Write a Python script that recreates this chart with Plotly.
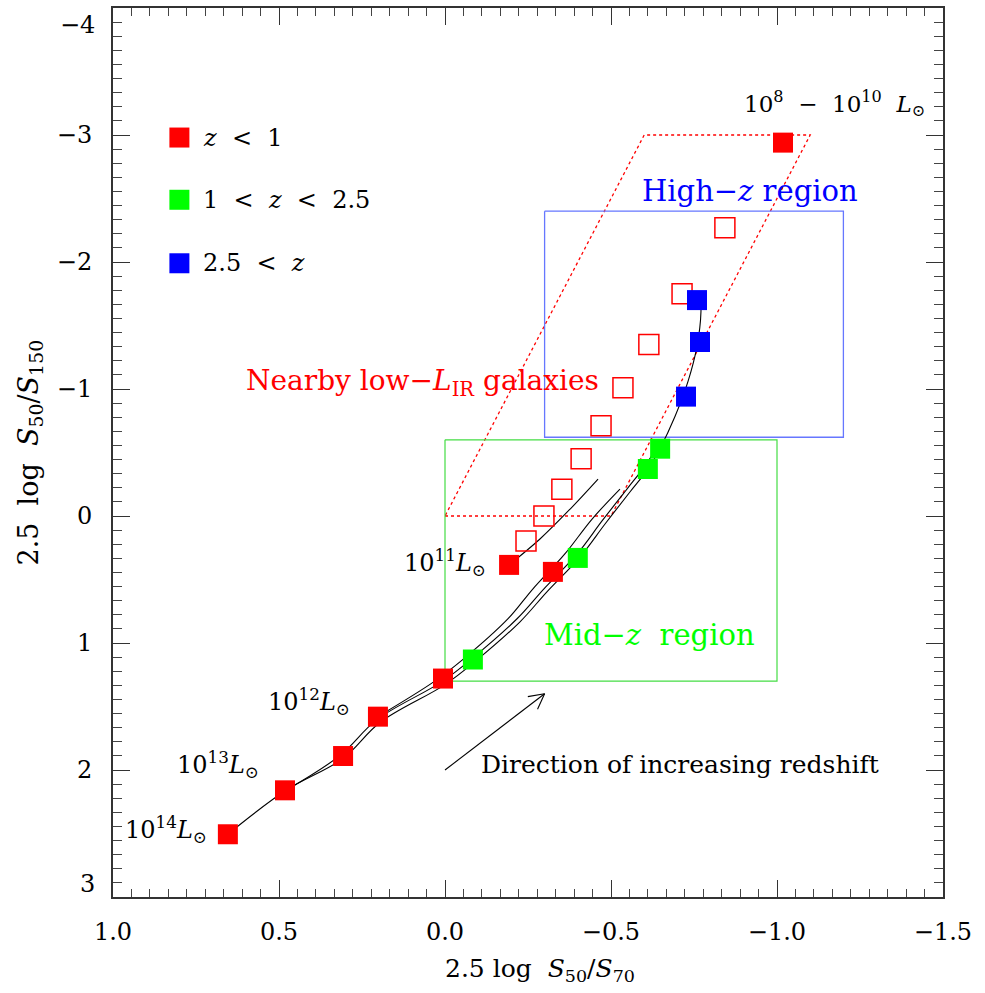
import math
import plotly.graph_objects as go

# ---- data -------------------------------------------------------------
# filled squares: colour classes by redshift
red_x = [0.654, 0.482, 0.307, 0.202, 0.006, -0.193, -0.325, -1.018]
red_y = [2.506, 2.160, 1.890, 1.580, 1.280, 0.385, 0.440, -2.940]
green_x = [-0.084, -0.400, -0.611, -0.648]
green_y = [1.130, 0.330, -0.370, -0.530]
blue_x = [-0.759, -0.768, -0.726]
blue_y = [-1.700, -1.370, -0.940]

# open squares: nearby low-L_IR galaxies
open_x = [-0.244, -0.298, -0.352, -0.410, -0.470, -0.536, -0.614, -0.714, -0.843]
open_y = [0.196, 0.000, -0.210, -0.450, -0.710, -1.010, -1.350, -1.750, -2.270]

# model colour tracks for fixed luminosity, redshift increasing up and to the right
track_l14_x = [0.654, 0.479, 0.307, 0.196, 0.000, -0.090, -0.226, -0.307, -0.407,
               -0.482, -0.557, -0.611, -0.648, -0.693, -0.732, -0.759, -0.771, -0.768]
track_l14_y = [2.506, 2.160, 1.909, 1.626, 1.328, 1.147, 0.833, 0.597, 0.322,
               0.063, -0.189, -0.369, -0.534, -0.786, -1.060, -1.335, -1.610, -1.744]
track_l13_x = [0.479, 0.316, 0.205, 0.009, -0.081, -0.217, -0.298, -0.398, -0.473,
               -0.548, -0.602, -0.636]
track_l13_y = [2.160, 1.885, 1.603, 1.304, 1.123, 0.809, 0.573, 0.299, 0.039,
               -0.212, -0.393, -0.534]
track_l12_x = [0.202, 0.033, -0.057, -0.190, -0.265, -0.361, -0.443, -0.527]
track_l12_y = [1.579, 1.304, 1.123, 0.809, 0.573, 0.299, 0.024, -0.212]
track_l11_x = [-0.193, -0.286, -0.377, -0.461]
track_l11_y = [0.385, 0.181, -0.055, -0.291]

# selection regions
nearby_x = [0.0, -0.5, -1.1, -0.6, 0.0]
nearby_y = [0.0, 0.0, -3.0, -3.0, 0.0]
midz_x = [0.0, -1.0, -1.0, 0.0, 0.0]
midz_y = [-0.6, -0.6, 1.3, 1.3, -0.6]
highz_x = [-0.3, -1.2, -1.2, -0.3, -0.3]
highz_y = [-2.4, -2.4, -0.62, -0.62, -2.4]

# redshift arrow (tail, tip)
arrow_x = [0.0, -0.30]
arrow_y = [2.0, 1.40]

# legend
legend_labels = ["<i>z</i>  &lt;  1", "1  &lt;  <i>z</i>  &lt;  2.5", "2.5  &lt;  <i>z</i>"]
legend_y = [-2.98, -2.49, -1.99]

x_ticks = [1.0, 0.5, 0.0, -0.5, -1.0, -1.5]
y_ticks = [-3, -2, -1, 0, 1, 2]
y_edge_ticks = [-4, 3]

FONT = "DejaVu Serif"
RED, GREEN, BLUE = "#ff0000", "#00ff00", "#0000ff"

X_RANGE = [1.0, -1.5]
Y_RANGE = [3.0, -4.0]
W, H = 985, 993
M = dict(l=113, r=42, t=6, b=96)
PLOT_W = W - M["l"] - M["r"]
PLOT_H = H - M["t"] - M["b"]
PX_PER_X = PLOT_W / abs(X_RANGE[1] - X_RANGE[0])
PX_PER_Y = PLOT_H / abs(Y_RANGE[1] - Y_RANGE[0])

fig = go.Figure()


def line(x, y, color, width=1.0, dash="solid", shape="spline"):
    fig.add_trace(go.Scatter(x=x, y=y, mode="lines", showlegend=False, hoverinfo="skip",
                             line=dict(color=color, width=width, dash=dash, shape=shape,
                                       smoothing=1.0)))


# regions
line(nearby_x, nearby_y, RED, 1.3, "dot", "linear")
line(midz_x, midz_y, "#44dd44", 1.2, "solid", "linear")
line(highz_x, highz_y, "#6677ff", 1.3, "solid", "linear")

# tracks
for tx, ty in [(track_l14_x, track_l14_y), (track_l13_x, track_l13_y),
               (track_l12_x, track_l12_y), (track_l11_x, track_l11_y)]:
    line(tx, ty, "black", 1.1)


def squares(x, y, color, filled=True):
    fig.add_trace(go.Scatter(
        x=x, y=y, mode="markers", showlegend=False, hoverinfo="skip",
        marker=dict(symbol="square" if filled else "square-open", size=20,
                    color=color, line=dict(color=color, width=0 if filled else 1.5))))


squares(open_x, open_y, RED, filled=False)
squares(red_x, red_y, RED)
squares(green_x, green_y, GREEN)
squares(blue_x, blue_y, BLUE)

# legend
squares([0.80] * 3, legend_y, [RED, GREEN, BLUE])
for lab, yy in zip(legend_labels, legend_y):
    fig.add_annotation(x=0.735, y=yy, text=lab, showarrow=False, xanchor="left",
                       yanchor="middle", font=dict(family=FONT, size=24, color="black"))


def text(x, y, s, color="black", size=23, anchor="center"):
    fig.add_annotation(x=x, y=y, text=s, showarrow=False, xanchor=anchor,
                       yanchor="middle", font=dict(family=FONT, size=size, color=color))


text(-0.92, -2.56, "High−<i>z</i> region", BLUE, 29)
text(-0.617, 0.94, "Mid−<i>z</i>  region", GREEN, 29)
text(0.069, -1.05, "Nearby low−<i>L</i><sub>IR</sub> galaxies", RED, 28)
text(-1.452, -3.25, "10<sup>8</sup>  −  10<sup>10</sup>  <i>L</i><sub>⊙</sub>", size=23, anchor="right")
text(0.71, 2.47, "10<sup>14</sup><i>L</i><sub>⊙</sub>", size=24, anchor="right")
text(0.555, 1.96, "10<sup>13</sup><i>L</i><sub>⊙</sub>", size=24, anchor="right")
text(0.28, 1.46, "10<sup>12</sup><i>L</i><sub>⊙</sub>", size=24, anchor="right")
text(-0.13, 0.37, "10<sup>11</sup><i>L</i><sub>⊙</sub>", size=24, anchor="right")
text(-0.102, 1.96, "Direction of increasing redshift", size=25, anchor="left")

# redshift arrow: shaft plus an open chevron head built in pixel space
line(arrow_x, arrow_y, "black", 1.1, shape="linear")
dxp = -(arrow_x[1] - arrow_x[0]) * PX_PER_X
dyp = (arrow_y[1] - arrow_y[0]) * PX_PER_Y
ang = math.atan2(dyp, dxp)
head_len = 17
for s in (+1, -1):
    a = ang + math.pi + s * math.radians(28)
    hx = arrow_x[1] - head_len * math.cos(a) / PX_PER_X
    hy = arrow_y[1] + head_len * math.sin(a) / PX_PER_Y
    line([arrow_x[1], hx], [arrow_y[1], hy], "black", 1.1, shape="linear")

# edge tick labels sit just inside the frame ends
for v, shift in zip(y_edge_ticks, [0.13, -0.1]):
    fig.add_annotation(x=0, xref="paper", y=v + shift, yref="y", xanchor="right",
                       xshift=-16, text=str(v).replace("-", "−"), showarrow=False,
                       font=dict(family=FONT, size=24, color="black"))

# axis titles
fig.add_annotation(x=-83 / PLOT_W, xref="paper", y=0.5, yref="paper", textangle=-90,
                   xanchor="center", yanchor="middle",
                   text="2.5  log  <i>S</i><sub>50</sub>/<i>S</i><sub>150</sub>",
                   showarrow=False, font=dict(family=FONT, size=27, color="black"))
fig.add_annotation(x=(540 - M["l"]) / PLOT_W, xref="paper", y=-73 / PLOT_H, yref="paper",
                   xanchor="center", yanchor="middle",
                   text="2.5 log  <i>S</i><sub>50</sub>/<i>S</i><sub>70</sub>",
                   showarrow=False, font=dict(family=FONT, size=25, color="black"))

axis_common = dict(showgrid=False, zeroline=False, showline=True, linecolor="#333333",
                   linewidth=2, mirror="allticks", ticks="inside", ticklen=17,
                   tickwidth=1.3, tickcolor="#333333",
                   tickfont=dict(family=FONT, size=24, color="black"))

fig.update_xaxes(range=X_RANGE, tickvals=x_ticks,
                 ticktext=[f"{v:.1f}".replace("-", "−") for v in x_ticks],
                 ticklabelstandoff=12,
                 minor=dict(ticks="inside", ticklen=8, dtick=0.5 / 9, tick0=1.0,
                            tickcolor="#444444", tickwidth=1.1),
                 **axis_common)
fig.update_yaxes(range=Y_RANGE, tickvals=y_ticks,
                 ticktext=[str(v).replace("-", "−") for v in y_ticks],
                 ticklabelstandoff=14,
                 minor=dict(ticks="inside", ticklen=9, dtick=1 / 9, tick0=0,
                            tickcolor="#444444", tickwidth=1.1),
                 **axis_common)

fig.update_layout(width=W, height=H, margin=M,
                  plot_bgcolor="white", paper_bgcolor="white", showlegend=False)

fig.write_html("out.html")
